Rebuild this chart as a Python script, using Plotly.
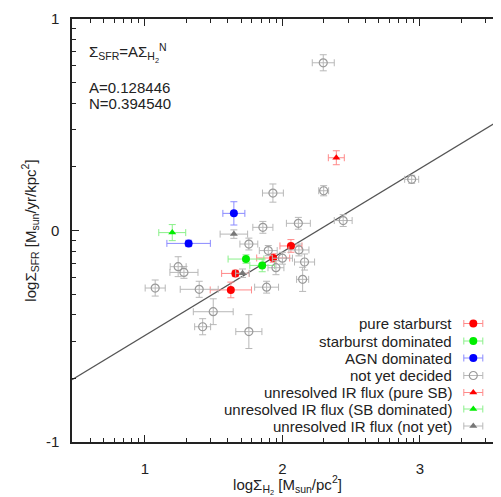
import numpy as np
import plotly.graph_objects as go

# ---- data ----
A_coef = 0.128446
N_coef = 0.394540

pure_sb_x = [2.062, 1.933, 1.658, 1.625]
pure_sb_y = [-0.073, -0.130, -0.203, -0.281]
pure_sb_ex = [0.08, 0.12, 0.10, 0.15]
pure_sb_ey = [0.03, 0.02, 0.015, 0.037]

sb_dom_x = [1.735, 1.853]
sb_dom_y = [-0.135, -0.165]
sb_dom_ex = [0.13, 0.09]
sb_dom_ey = [0.02, 0.03]

agn_x = [1.647, 1.318]
agn_y = [0.081, -0.061]
agn_ex = [0.08, 0.158]
agn_ey = [0.055, 0.015]

notyet_x = [2.297, 1.931, 2.300, 2.940, 2.442, 2.116, 1.858, 1.756, 2.120, 1.897, 2.000,
            2.161, 1.953, 2.147, 1.885, 1.395, 1.497, 1.420, 1.756, 1.075, 1.242, 1.284]
notyet_y = [0.793, 0.177, 0.188, 0.242, 0.047, 0.034, 0.015, -0.064, -0.092, -0.095, -0.131,
            -0.149, -0.176, -0.231, -0.268, -0.278, -0.384, -0.455, -0.478, -0.272, -0.171, -0.198]
notyet_ex = [0.080, 0.076, 0.036, 0.051, 0.065, 0.087, 0.073, 0.065, 0.073, 0.065, 0.073,
             0.073, 0.058, 0.044, 0.087, 0.138, 0.145, 0.058, 0.095, 0.073, 0.058, 0.102]
notyet_ey = [0.038, 0.043, 0.024, 0.019, 0.028, 0.028, 0.028, 0.028, 0.028, 0.024, 0.028,
             0.038, 0.033, 0.057, 0.028, 0.038, 0.061, 0.038, 0.080, 0.038, 0.047, 0.028]

unres_sb_x = [2.392]
unres_sb_y = [0.344]
unres_sb_ex = [0.058]
unres_sb_ey = [0.033]

unres_dom_x = [1.199]
unres_dom_y = [-0.010]
unres_dom_ex = [0.098]
unres_dom_ey = [0.038]

unres_ny_x = [1.647, 1.710]
unres_ny_y = [-0.017, -0.202]
unres_ny_ex = [0.10, 0.05]
unres_ny_ey = [0.02, 0.02]

legend_labels = ["pure starburst", "starburst dominated", "AGN dominated", "not yet decided",
                 "unresolved IR flux (pure SB)", "unresolved IR flux (SB dominated)",
                 "unresolved IR flux (not yet)"]

X_RANGE = [0.47, 3.604]
Y_RANGE = [-1, 1]

FONT = "Liberation Sans, Arial, Helvetica, sans-serif"
FS = 15
TXT = "#222222"

RED, GREEN, BLUE, GRAY = "#ff0000", "#00ee00", "#0000ff", "#9a9a9a"
RED_E, GREEN_E, BLUE_E, GRAY_E = "#ff8a8a", "#8af08a", "#8a8aff", "#b8b8b8"

series = [
    (pure_sb_x, pure_sb_y, pure_sb_ex, pure_sb_ey, dict(symbol="circle", size=8, color=RED), RED_E),
    (sb_dom_x, sb_dom_y, sb_dom_ex, sb_dom_ey, dict(symbol="circle", size=8, color=GREEN), GREEN_E),
    (agn_x, agn_y, agn_ex, agn_ey, dict(symbol="circle", size=8, color=BLUE), BLUE_E),
    (notyet_x, notyet_y, notyet_ex, notyet_ey,
     dict(symbol="circle-open", size=8, color=GRAY, line=dict(width=1.2, color=GRAY)), GRAY_E),
    (unres_sb_x, unres_sb_y, unres_sb_ex, unres_sb_ey, dict(symbol="triangle-up", size=7, color=RED), RED_E),
    (unres_dom_x, unres_dom_y, unres_dom_ex, unres_dom_ey, dict(symbol="triangle-up", size=7, color=GREEN), GREEN_E),
    (unres_ny_x, unres_ny_y, unres_ny_ex, unres_ny_ey, dict(symbol="triangle-up", size=7, color="#777777"), GRAY_E),
]

fig = go.Figure()

# fit line  log(SFR) = log(A) + N * log(H2)
fx = np.array(X_RANGE)
fy = np.log10(A_coef) + N_coef * fx
fig.add_trace(go.Scatter(x=fx, y=fy, mode="lines", line=dict(color="#555555", width=1.3),
                         showlegend=False, hoverinfo="skip"))

for (xs, ys, exs, eys, mk, ecol) in series:
    fig.add_trace(go.Scatter(
        x=xs, y=ys, mode="markers", marker=mk, showlegend=False,
        error_x=dict(type="data", array=exs, visible=True, color=ecol, thickness=1, width=3.5),
        error_y=dict(type="data", array=eys, visible=True, color=ecol, thickness=1, width=3.5),
    ))

# page has an 8px body margin; plot area target (in window px): 72..503 x 19..442
BODY = 8
plot_l, plot_r, plot_t, plot_b = 72, 503, 19, 442
W = plot_r - plot_l
H = plot_b - plot_t

def px_x(p):
    return (p - plot_l) / W

def px_y(p):
    return (plot_b - p) / H

# manual legend (right-aligned text, sample symbol on the right)
row_py = [323.5, 341, 358, 375.5, 392.5, 409, 426]
for i, (lab, s) in enumerate(zip(legend_labels, series)):
    yp = px_y(row_py[i])
    fig.add_annotation(x=px_x(454), y=yp, xref="paper", yref="paper",
                       text=lab, showarrow=False, xanchor="right", yanchor="middle",
                       font=dict(family=FONT, size=FS, color=TXT))
    fig.add_trace(go.Scatter(
        x=[px_x(473.3)], y=[yp], xaxis="x2", yaxis="y2", mode="markers",
        marker=s[4], showlegend=False, hoverinfo="skip",
        error_x=dict(type="constant", value=9.5 / W, visible=True, color=s[5], thickness=1, width=3.5),
    ))

# equation annotation
ann_font = dict(family=FONT, size=FS, color=TXT)
fig.add_annotation(x=px_x(87), y=px_y(53), xref="paper", yref="paper", showarrow=False,
                   xanchor="left", yanchor="middle", font=ann_font,
                   text="Σ<sub>SFR</sub>=AΣ<sub>H<sub>2</sub></sub><sup>N</sup>")
fig.add_annotation(x=px_x(87), y=px_y(87), xref="paper", yref="paper",
                   text="A=0.128446", showarrow=False, xanchor="left", yanchor="middle", font=ann_font)
fig.add_annotation(x=px_x(87), y=px_y(104), xref="paper", yref="paper",
                   text="N=0.394540", showarrow=False, xanchor="left", yanchor="middle", font=ann_font)

x_minor = [n + np.log10(k) for n in range(0, 4) for k in range(2, 10)
           if X_RANGE[0] < n + np.log10(k) < X_RANGE[1]]
y_minor = [n + np.log10(k) for n in (-1, 0) for k in range(2, 10)]

tickfont = dict(family=FONT, size=FS, color=TXT)
fig.update_layout(
    width=plot_r - BODY, height=497 - BODY,
    margin=dict(l=plot_l - BODY, r=0, t=plot_t - BODY, b=497 - plot_b, autoexpand=False),
    paper_bgcolor="white", plot_bgcolor="white",
    showlegend=False,
    xaxis=dict(range=X_RANGE, tickvals=[1, 2, 3], ticktext=["1", "2", "3"],
               ticks="inside", ticklen=7, tickwidth=1, tickcolor=TXT,
               showline=True, linecolor=TXT, linewidth=1.5, mirror="ticks",
               showgrid=False, zeroline=False, tickfont=tickfont, ticklabelstandoff=12,
               minor=dict(tickvals=x_minor, ticks="inside", ticklen=4, tickcolor=TXT, showgrid=False),
               title=dict(text="logΣ<sub>H<sub>2</sub></sub> [M<sub>sun</sub>/pc<sup>2</sup>]",
                          font=dict(family=FONT, size=FS, color=TXT), standoff=4)),
    yaxis=dict(range=Y_RANGE, tickvals=[-1, 0, 1], ticktext=["-1", "0", "1"],
               ticks="inside", ticklen=7, tickwidth=1, tickcolor=TXT,
               showline=True, linecolor=TXT, linewidth=1.5, mirror="ticks",
               showgrid=False, zeroline=False, tickfont=tickfont, ticklabelstandoff=8,
               minor=dict(tickvals=y_minor, ticks="inside", ticklen=4, tickcolor=TXT, showgrid=False),
               title=dict(text="logΣ<sub>SFR</sub> [M<sub>sun</sub>/yr/kpc<sup>2</sup>]",
                          font=dict(family=FONT, size=FS, color=TXT), standoff=6)),
    xaxis2=dict(range=[0, 1], overlaying="x", visible=False, anchor="y2"),
    yaxis2=dict(range=[0, 1], overlaying="y", visible=False, anchor="x2"),
)

fig.write_html("out.html")
